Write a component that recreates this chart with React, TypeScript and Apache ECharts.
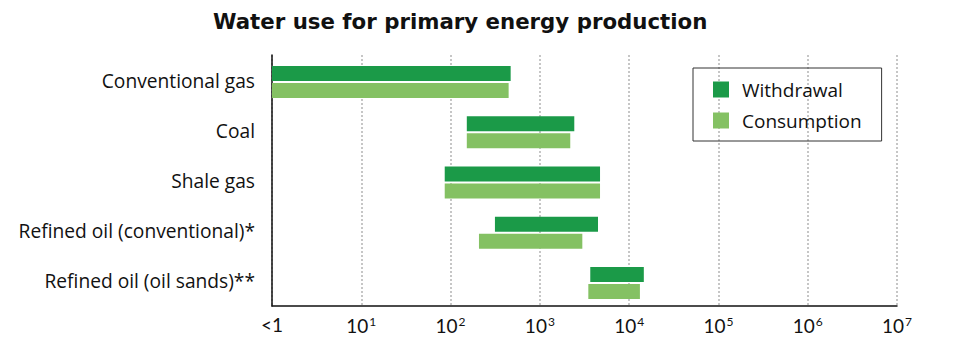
import React, { useEffect, useRef } from "react";
import * as echarts from "echarts";

// Energy sources (top to bottom)
const categories = [
  "Conventional gas",
  "Coal",
  "Shale gas",
  "Refined oil (conventional)*",
  "Refined oil (oil sands)**",
];

// Water use ranges [low, high] per source, log scale
const withdrawalLow = [1, 152, 86, 314, 3670];
const withdrawalHigh = [471, 2430, 4720, 4480, 14600];
const consumptionLow = [1, 152, 86, 208, 3490];
const consumptionHigh = [447, 2190, 4720, 2990, 13200];

// Decade ticks on the value axis
const tickExponents = [0, 1, 2, 3, 4, 5, 6, 7];

const WITHDRAWAL_COLOR = "#1b9a48";
const CONSUMPTION_COLOR = "#84c163";
const FONT = "'Open Sans', Lato, sans-serif";
const TICK_FONT = "Lato, 'Open Sans', sans-serif";

function rangeData(low: number[], high: number[]) {
  return categories.map((_, i) => [i, low[i], high[i]]);
}

// Draws one floating range bar, shifted up or down within the category band
function makeRenderItem(offsetTop: number, barHeight: number) {
  return (params: any, api: any) => {
    const cat = api.value(0);
    const start = api.coord([api.value(1), cat]);
    const end = api.coord([api.value(2), cat]);
    const shape = echarts.graphic.clipRectByRect(
      {
        x: start[0],
        y: start[1] + offsetTop,
        width: end[0] - start[0],
        height: barHeight,
      },
      {
        x: params.coordSys.x,
        y: params.coordSys.y,
        width: params.coordSys.width,
        height: params.coordSys.height,
      }
    );
    return shape
      ? { type: "rect", shape, style: api.style() }
      : null;
  };
}

export default function App() {
  const ref = useRef<HTMLDivElement>(null);

  useEffect(() => {
    if (!ref.current) return;
    const chart = echarts.init(ref.current, null, { renderer: "svg" });

    const option: any = {
      animation: false,
      backgroundColor: "#ffffff",
      title: {
        text: "Water use for primary energy production",
        left: 208,
        top: 6,
        textStyle: {
          fontFamily: "'DejaVu Sans', sans-serif",
          fontWeight: "bold",
          fontSize: 21.3,
          color: "#111111",
        },
      },
      legend: {
        orient: "vertical",
        left: 693,
        top: 68,
        padding: [12, 20, 11, 20],
        itemWidth: 16,
        itemHeight: 16,
        itemGap: 12,
        icon: "rect",
        borderColor: "#333333",
        borderWidth: 1,
        textStyle: {
          fontFamily: FONT,
          fontSize: 19,
          color: "#111111",
          padding: [0, 0, 0, 8],
        },
        data: ["Withdrawal", "Consumption"],
      },
      grid: {
        left: 272,
        right: 72,
        top: 55,
        bottom: 41,
      },
      xAxis: {
        type: "log",
        logBase: 10,
        min: Math.pow(10, tickExponents[0]),
        max: Math.pow(10, tickExponents[tickExponents.length - 1]),
        axisLine: { show: true, lineStyle: { color: "#111111", width: 1.5 } },
        axisTick: { show: false },
        splitLine: {
          show: true,
          lineStyle: { color: "#b4b4b4", type: [2, 2], width: 1.5 },
        },
        axisLabel: {
          margin: 9,
          fontFamily: TICK_FONT,
          color: "#111111",
          formatter: (v: number) => {
            const e = Math.round(Math.log10(v));
            if (e === 0) return "{b|<1}";
            return `{b|10}{s|${e}}`;
          },
          rich: {
            b: { fontFamily: TICK_FONT, fontSize: 19, color: "#111111" },
            s: {
              fontFamily: TICK_FONT,
              fontSize: 12,
              color: "#111111",
              padding: [0, 0, 9, 1],
            },
          },
        },
      },
      yAxis: {
        type: "category",
        data: categories,
        inverse: true,
        axisLine: { show: true, lineStyle: { color: "#111111", width: 1.5 } },
        axisTick: { show: false },
        splitLine: { show: false },
        axisLabel: {
          margin: 17,
          fontFamily: FONT,
          fontSize: 19.2,
          color: "#111111",
        },
      },
      series: [
        {
          name: "Withdrawal",
          type: "custom",
          renderItem: makeRenderItem(-14, 15),
          itemStyle: { color: WITHDRAWAL_COLOR },
          encode: { x: [1, 2], y: 0 },
          data: rangeData(withdrawalLow, withdrawalHigh),
        },
        {
          name: "Consumption",
          type: "custom",
          renderItem: makeRenderItem(3, 15),
          itemStyle: { color: CONSUMPTION_COLOR },
          encode: { x: [1, 2], y: 0 },
          data: rangeData(consumptionLow, consumptionHigh),
        },
      ],
    };

    chart.setOption(option);
    return () => chart.dispose();
  }, []);

  return (
    <div
      ref={ref}
      style={{ position: "fixed", left: 0, top: 0, width: 969, height: 347 }}
    />
  );
}
